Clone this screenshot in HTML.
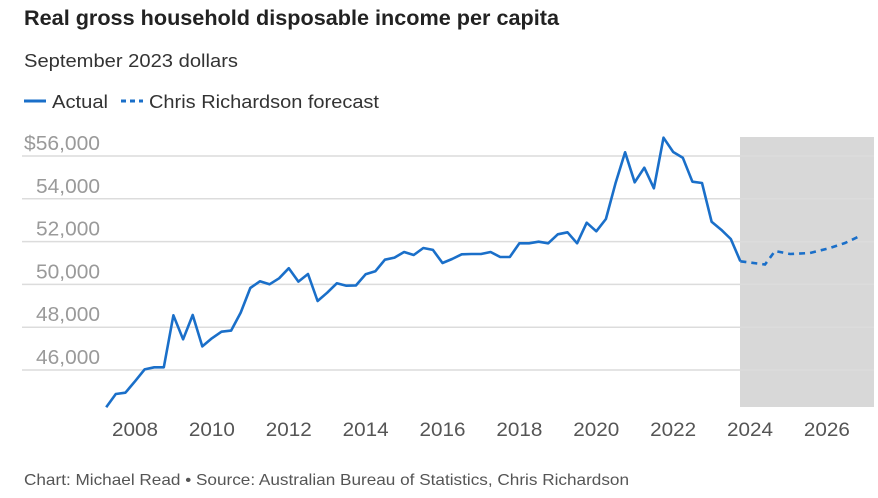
<!DOCTYPE html>
<html><head><meta charset="utf-8"><style>
body{margin:0;background:#fff;font-family:"Liberation Sans",sans-serif;}
#wrap{position:relative;width:878px;height:498px;overflow:hidden;}
</style></head><body>
<div id="wrap">
<svg id="chart" width="878" height="498">
<text x="24" y="25" font-size="21" font-weight="bold" fill="#222" textLength="535" lengthAdjust="spacingAndGlyphs">Real gross household disposable income per capita</text>
<text x="24" y="67" font-size="18.5" fill="#333" textLength="214" lengthAdjust="spacingAndGlyphs">September 2023 dollars</text>
<g>
<line x1="24" y1="101" x2="46" y2="101" stroke="#1a6fc9" stroke-width="3"/>
<text x="52" y="108" font-size="18.5" fill="#333" textLength="56" lengthAdjust="spacingAndGlyphs">Actual</text>
<line x1="121" y1="101" x2="143" y2="101" stroke="#1a6fc9" stroke-width="3" stroke-dasharray="5,4"/>
<text x="149" y="108" font-size="18.5" fill="#333" textLength="230" lengthAdjust="spacingAndGlyphs">Chris Richardson forecast</text>
</g>
<rect x="740" y="137" width="134" height="270" fill="#d8d8d8"/>
<g id="grid"></g><g id="xt"></g>
<path id="actual" fill="none" stroke="#1a6fc9" stroke-width="2.6" stroke-linejoin="round"/>
<path id="forecast" fill="none" stroke="#1a6fc9" stroke-width="2.6" stroke-dasharray="6,5"/>
<text x="24" y="485" font-size="16" fill="#555" textLength="605" lengthAdjust="spacingAndGlyphs">Chart: Michael Read • Source: Australian Bureau of Statistics, Chris Richardson</text>
</svg>
</div>
<script>
const actualStart = 2007.25;
const actualValues = [44255,44878,44940,45470,46030,46125,46125,48555,47435,48570,47105,47480,47790,47840,48680,49830,50145,50005,50285,50755,50130,50485,49225,49610,50050,49940,49955,50470,50610,51155,51250,51515,51375,51700,51610,51000,51185,51405,51420,51420,51515,51280,51280,51920,51920,51995,51920,52340,52435,51920,52885,52480,53055,54725,56175,54770,55455,54490,56855,56185,55920,54800,54740,52930,52555,52120,51080];
const forecastDates = [2023.75,2024.39,2024.65,2025.04,2025.56,2026.08,2026.47,2026.86];
const forecastValues = [51080,50930,51560,51420,51465,51700,51935,52260];
const yTicks = [46000,48000,50000,52000,54000,56000];
const yTickLabels = ["46,000","48,000","50,000","52,000","54,000","$56,000"];
const xTicks = [2008,2010,2012,2014,2016,2018,2020,2022,2024,2026];

const NS="http://www.w3.org/2000/svg";
function xs(yr){return 135+(yr-2008)*38.44;}
function ys(v){return 156+(56000-v)/1000*21.4;}
const grid=document.getElementById('grid');
yTicks.forEach((t,i)=>{
  const l=document.createElementNS(NS,'line');
  l.setAttribute('x1',22);l.setAttribute('x2',874);
  l.setAttribute('y1',ys(t));l.setAttribute('y2',ys(t));
  l.setAttribute('stroke','#dcdcdc');l.setAttribute('stroke-width','1.5');
  
  
  grid.appendChild(l);
  const tx=document.createElementNS(NS,'text');
  const isDollar=yTickLabels[i].startsWith('$');
  tx.setAttribute('x', isDollar?24:36);
  tx.setAttribute('y',ys(t)-6);
  tx.setAttribute('font-size','20.5');tx.setAttribute('fill','#9a9a9a');
  tx.setAttribute('textLength', isDollar?76:64);
  tx.setAttribute('lengthAdjust','spacingAndGlyphs');
  tx.textContent=yTickLabels[i];
  
  
  grid.appendChild(tx);
});
const xt=document.getElementById('xt');
xTicks.forEach(yr=>{
  const tx=document.createElementNS(NS,'text');
  tx.setAttribute('x',xs(yr)-23);tx.setAttribute('y',436);
  tx.setAttribute('font-size','19.5');tx.setAttribute('fill','#555');
  tx.setAttribute('textLength',46);
  tx.setAttribute('lengthAdjust','spacingAndGlyphs');
  tx.textContent=yr;
  
  
  xt.appendChild(tx);
});
document.getElementById('actual').setAttribute('d',actualValues.map((v,i)=>(i?'L':'M')+xs(actualStart+i*0.25).toFixed(1)+','+ys(v).toFixed(1)).join(''));
document.getElementById('forecast').setAttribute('d',forecastValues.map((v,i)=>(i?'L':'M')+xs(forecastDates[i]).toFixed(1)+','+ys(v).toFixed(1)).join(''));
</script>
</body></html>
